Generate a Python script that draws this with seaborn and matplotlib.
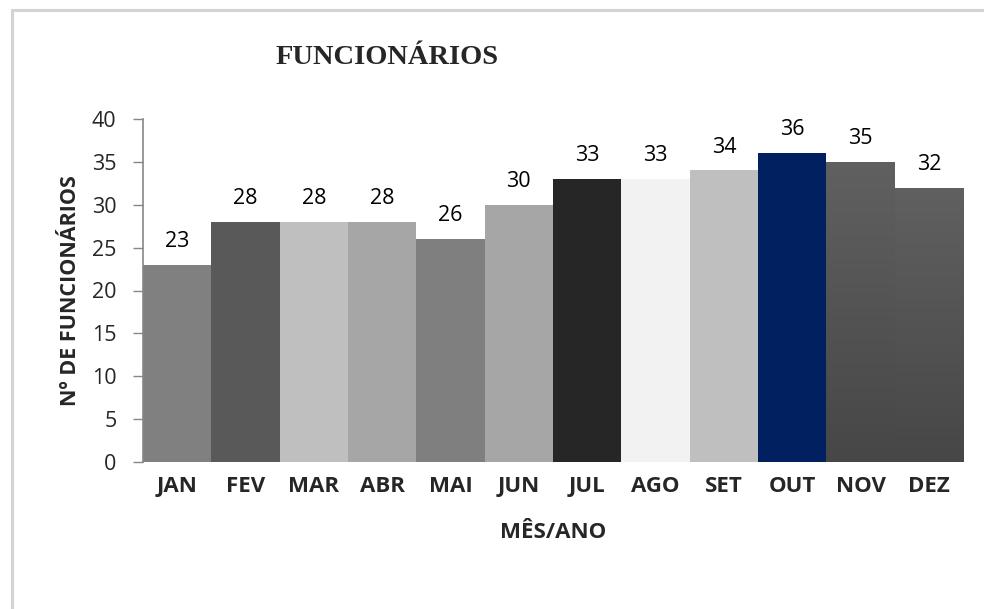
import matplotlib
matplotlib.use("Agg")
import matplotlib.pyplot as plt
import numpy as np
import pandas as pd
import seaborn as sns
from matplotlib.colors import LinearSegmentedColormap
from matplotlib.patches import Rectangle

# dados
meses = ["JAN", "FEV", "MAR", "ABR", "MAI", "JUN", "JUL", "AGO", "SET", "OUT", "NOV", "DEZ"]
funcionarios = [23, 28, 28, 28, 26, 30, 33, 33, 34, 36, 35, 32]
cores = ["#808080", "#595959", "#BFBFBF", "#A6A6A6", "#7F7F7F", "#A6A6A6",
         "#262626", "#F2F2F2", "#BFBFBF", "#002060", "#5A5A5A", "#5A5A5A"]
gradiente = ["NOV", "DEZ"]  # barras com degradê
yticks = [0, 5, 10, 15, 20, 25, 30, 35, 40]

sns.set_theme(style="white")
plt.rcParams["font.family"] = ["Open Sans", "DejaVu Sans"]

df = pd.DataFrame({"mes": meses, "n": funcionarios})

fig = plt.figure(figsize=(9.84, 6.09), dpi=100, facecolor="white")
# moldura do gráfico
fig.patches.append(Rectangle((12 / 984, -0.1), 1.2, 1 - 10 / 609 + 0.1,
                             transform=fig.transFigure, fill=False,
                             edgecolor="#D3D3D3", linewidth=2.2, zorder=0))

ax = fig.add_axes([143 / 984, 1 - 462 / 609, 820 / 984, (462 - 119) / 609])
sns.barplot(data=df, x="mes", y="n", hue="mes", palette=cores, legend=False,
            width=1.0, saturation=1, ax=ax, linewidth=0)

# degradê vertical em NOV e DEZ
cmap_grad = LinearSegmentedColormap.from_list("g", ["#474747", "#606060"])
for p, m in zip(ax.patches, meses):
    if m in gradiente:
        x0, w, h = p.get_x(), p.get_width(), p.get_height()
        im = ax.imshow(np.linspace(0, 1, 64).reshape(-1, 1), cmap=cmap_grad,
                       extent=[x0, x0 + w, 0, h], origin="lower", aspect="auto",
                       zorder=p.get_zorder() + 0.1)
        im.set_clip_path(p)

ax.set_ylim(0, 40)
ax.set_xlim(-0.5, 11.5)
ax.set_yticks(yticks)
ax.set_yticklabels([str(v) for v in yticks], fontsize=15.5)
ax.tick_params(axis="y", length=7, width=1, color="#868686", direction="out", pad=12, left=True)
ax.tick_params(axis="x", length=0, pad=10)
for lbl in ax.get_xticklabels():
    lbl.set_fontweight("bold")
    lbl.set_fontsize(16)

for s in ["top", "right", "bottom"]:
    ax.spines[s].set_visible(False)
ax.spines["left"].set_color("#868686")
ax.spines["left"].set_linewidth(1.2)

for i, v in enumerate(funcionarios):
    ax.text(i, v + 1.5, str(v), ha="center", va="bottom", fontsize=15.5, color="#000000")

ax.set_xlabel("MÊS/ANO", fontsize=16, fontweight="bold", labelpad=18)
ax.set_ylabel("Nº DE FUNCIONÁRIOS", fontsize=15.5, fontweight="bold", labelpad=8)

fig.text(387 / 984, 1 - 57 / 609, "FUNCIONÁRIOS", ha="center", va="center",
         fontsize=20.5, fontweight="bold", family=["Liberation Serif", "DejaVu Serif"])

fig.savefig("out.png", dpi=100, facecolor="white")
